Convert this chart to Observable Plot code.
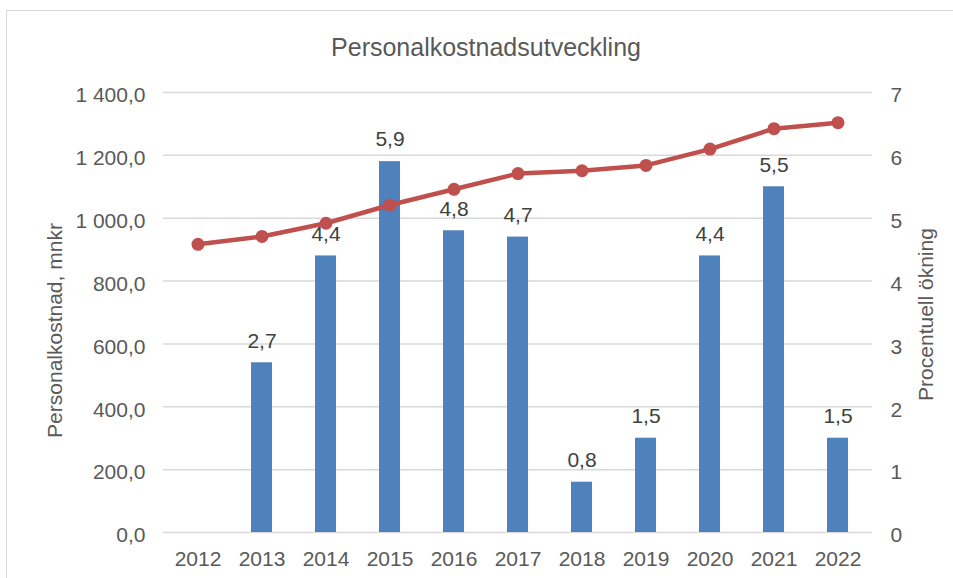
<!DOCTYPE html>
<html>
<head>
<meta charset="utf-8">
<script src="https://cdn.jsdelivr.net/npm/d3@7"></script>
<script src="https://cdn.jsdelivr.net/npm/@observablehq/plot@0.6"></script>
<style>
  html, body { margin: 0; padding: 0; background: #fff; overflow: hidden; }
  #frame { position: absolute; left: 6px; top: 10px; width: 1000px; height: 620px; border: 1px solid #d9d9d9; box-sizing: border-box; }
  #chart { position: absolute; left: 0; top: 0; }
</style>
</head>
<body>
<div id="frame"></div>
<div id="chart"></div>
<script>
const title = "Personalkostnadsutveckling";
const leftLabel = "Personalkostnad, mnkr";
const rightLabel = "Procentuell ökning";
const years = ["2012","2013","2014","2015","2016","2017","2018","2019","2020","2021","2022"];
const kostnad = [917, 942, 984, 1042, 1092, 1142, 1151, 1168, 1220, 1285, 1304];
const okning = [null, 2.7, 4.4, 5.9, 4.8, 4.7, 0.8, 1.5, 4.4, 5.5, 1.5];
const leftTicks = [0, 200, 400, 600, 800, 1000, 1200, 1400];
const rightTicks = [0, 1, 2, 3, 4, 5, 6, 7];

const ratio = 200; // 1 % on right axis == 200 mnkr on left axis
const rows = years.map((y, i) => ({year: y, kostnad: kostnad[i], okning: okning[i]}));
const barRows = rows.filter(d => d.okning != null);

const sv = d => {
  const s = d3.format(",.1f")(d);
  return s.replace(/,/g, " ").replace(".", ",");
};
const svPct = d => String(d).replace(".", ",");

const font = "Liberation Sans, Arial, sans-serif";
const grey = "#595959";

const chart = Plot.plot({
  width: 953,
  height: 578,
  marginLeft: 163,
  marginRight: 81,
  marginTop: 92,
  marginBottom: 46,
  style: {fontFamily: font, fontSize: "21px", color: grey, background: "transparent"},
  x: {domain: years, type: "band", paddingInner: 0.674, paddingOuter: 0.337},
  y: {domain: [0, 1400]},
  marks: [
    Plot.gridY(leftTicks, {stroke: "#d9d9d9", strokeOpacity: 1, strokeWidth: 1.5}),
    Plot.barY(barRows, {x: "year", y: d => d.okning * ratio, fill: "#4f81bd"}),
    Plot.text(barRows, {x: "year", y: d => d.okning * ratio, text: d => svPct(d.okning), dy: -22, fill: "#404040", fontSize: 21}),
    Plot.line(rows, {x: "year", y: "kostnad", stroke: "#c0504d", strokeWidth: 4.5}),
    Plot.dot(rows, {x: "year", y: "kostnad", fill: "#c0504d", r: 6.5}),
    Plot.axisY(leftTicks, {anchor: "left", tickSize: 0, tickPadding: 18, tickFormat: sv, dy: 3, label: null, fontSize: 21, fill: grey}),
    Plot.axisY(rightTicks.map(d => d * ratio), {anchor: "right", tickSize: 0, tickPadding: 18, tickFormat: d => String(d / ratio), dy: 3, label: null, fontSize: 21, fill: grey}),
    Plot.axisX({anchor: "bottom", tickSize: 0, tickPadding: 19, label: null, fontSize: 21, fill: grey}),
    Plot.text([leftLabel], {frameAnchor: "left", textAnchor: "middle", lineAnchor: "middle", dx: -108, dy: 18, rotate: -90, text: d => d, fontSize: 21, fill: grey}),
    Plot.text([rightLabel], {frameAnchor: "right", textAnchor: "middle", lineAnchor: "middle", dx: 54, dy: 2, rotate: -90, text: d => d, fontSize: 21, fill: grey}),
    Plot.text([title], {frameAnchor: "top", textAnchor: "middle", lineAnchor: "middle", dx: -32, dy: -44.5, text: d => d, fontSize: 25, fill: grey})
  ]
});
document.getElementById("chart").append(chart);
</script>
</body>
</html>
